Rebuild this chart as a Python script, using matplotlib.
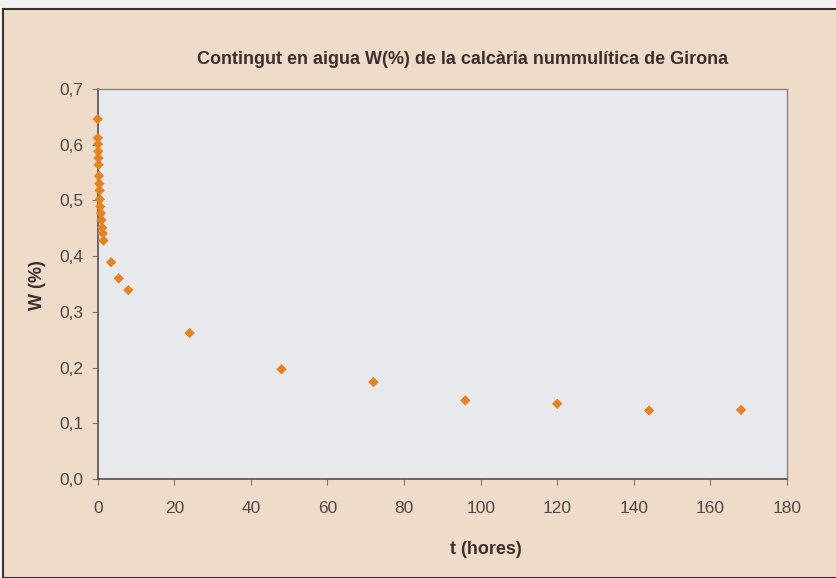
import matplotlib
matplotlib.use("Agg")
import matplotlib.pyplot as plt
from matplotlib.patches import Rectangle
from matplotlib.ticker import FuncFormatter

# data (t in hours, W in %)
t_hores = [0, 0.05, 0.1, 0.15, 0.2, 0.25, 0.33, 0.42, 0.5, 0.58, 0.67, 0.83,
           1.0, 1.17, 1.33, 1.5, 3.5, 5.5, 8, 24, 48, 72, 96, 120, 144, 168]
w_pct = [0.646, 0.612, 0.601, 0.588, 0.576, 0.564, 0.544, 0.530, 0.518, 0.502,
         0.489, 0.477, 0.465, 0.451, 0.441, 0.428, 0.389, 0.360, 0.339, 0.262,
         0.197, 0.174, 0.141, 0.135, 0.123, 0.124]

x_ticks = [0, 20, 40, 60, 80, 100, 120, 140, 160, 180]
y_ticks = [0, 0.1, 0.2, 0.3, 0.4, 0.5, 0.6, 0.7]

titol = "Contingut en aigua W(%) de la calcària nummulítica de Girona"

plt.rcParams["font.family"] = ["Liberation Sans", "DejaVu Sans"]

W, H = 837, 578
fig = plt.figure(figsize=(W / 100, H / 100), dpi=100)
fig.patch.set_facecolor("#f2f2f2")

# beige chart frame, behind the axes
frame = Rectangle((3 / W, 0), 1.0, 1 - 9 / H, transform=fig.transFigure,
                  facecolor="#eedcc8", edgecolor="#3a3030", linewidth=1.5,
                  zorder=-1)
fig.patches.append(frame)

ax = fig.add_axes([97.7 / W, 1 - 479 / H, (787 - 97.7) / W, (479 - 89) / H])
ax.set_facecolor("#e7e9ed")

ax.scatter(t_hores, w_pct, marker="D", s=28, color="#e8821e",
           edgecolors="none", zorder=3, clip_on=False)

ax.set_xlim(0, 180)
ax.set_ylim(0, 0.7)
ax.set_xticks(x_ticks)
ax.set_yticks(y_ticks)
ax.yaxis.set_major_formatter(FuncFormatter(lambda v, p: ("%.1f" % v).replace(".", ",")))

txt = "#4f4a4a"
ax.tick_params(axis="both", direction="out", length=4, width=0.8,
               colors="#777777", labelcolor=txt, labelsize=12.5)
ax.tick_params(axis="x", pad=12)
ax.tick_params(axis="y", pad=6)

for side in ["left", "bottom"]:
    ax.spines[side].set_color("#555050")
    ax.spines[side].set_linewidth(1.2)
for side in ["top", "right"]:
    ax.spines[side].set_color("#8a8585")
    ax.spines[side].set_linewidth(1.0)

fig.text(0.5 * (193 + 732) / W, 1 - 60 / H, titol, ha="center", va="center",
         fontsize=13, fontweight="bold", color="#3a3030")
fig.text(486 / W, 1 - 550 / H, "t (hores)", ha="center", va="center",
         fontsize=13, fontweight="bold", color="#3a3030")
fig.text(38 / W, 1 - 285 / H, "W (%)", ha="center", va="center", rotation=90,
         fontsize=13, fontweight="bold", color="#3a3030")

fig.savefig("out.png", dpi=100, facecolor=fig.get_facecolor())
